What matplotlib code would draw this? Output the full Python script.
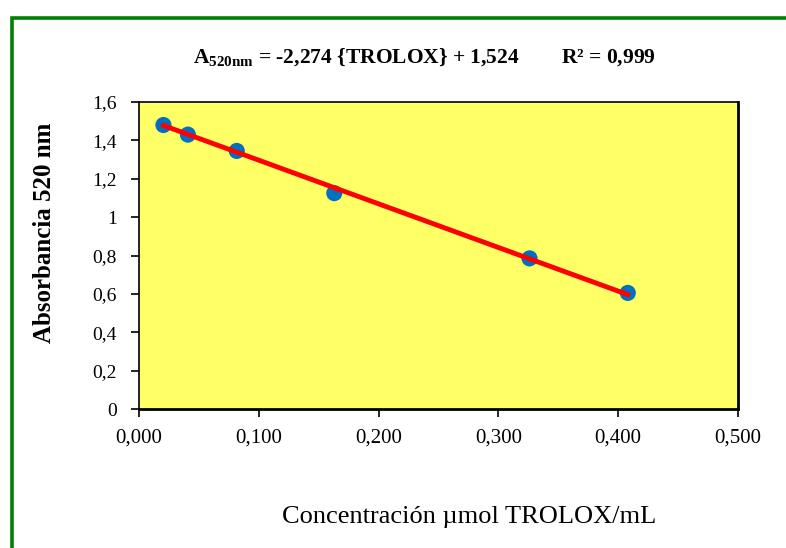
import matplotlib
matplotlib.use("Agg")
import matplotlib.pyplot as plt
import numpy as np
from matplotlib.patches import Rectangle
from matplotlib.ticker import FixedLocator

plt.rcParams['font.family'] = ['Liberation Serif', 'DejaVu Serif']
plt.rcParams['mathtext.fontset'] = 'custom'
plt.rcParams['mathtext.rm'] = 'Liberation Serif'
plt.rcParams['mathtext.bf'] = 'Liberation Serif:bold'

# Data
concentration = [0.0204, 0.0408, 0.0816, 0.163, 0.326, 0.408]
absorbance = [1.48, 1.43, 1.345, 1.125, 0.785, 0.605]
slope = -2.274
intercept = 1.524
x_ticks = [0.0, 0.1, 0.2, 0.3, 0.4, 0.5]
x_tick_labels = ["0,000", "0,100", "0,200", "0,300", "0,400", "0,500"]
y_ticks = [0, 0.2, 0.4, 0.6, 0.8, 1.0, 1.2, 1.4, 1.6]
y_tick_labels = ["0", "0,2", "0,4", "0,6", "0,8", "1", "1,2", "1,4", "1,6"]

W, H = 786, 548
fig = plt.figure(figsize=(W/100, H/100), dpi=100)
fig.patch.set_facecolor('white')

# green frame (extends beyond right & bottom edges)
fig.add_artist(Rectangle((11.5/W, -0.05), 1.2, 1.05 - 18/H,
                         transform=fig.transFigure, fill=False,
                         edgecolor='#008000', linewidth=2.6))

ax = fig.add_axes([139/W, 1 - 409/H, (738-139)/W, (409-102)/H])
ax.set_facecolor('#ffff66')

xs = np.array([concentration[0], concentration[-1]])
ax.plot(xs, slope*xs + intercept, color='#ff0000', lw=3.5, zorder=2)
ax.scatter(concentration, absorbance, s=135, color='#0070c0', zorder=1, edgecolors='none')

ax.set_xlim(0, 0.5)
ax.set_ylim(0, 1.6)
ax.xaxis.set_major_locator(FixedLocator(x_ticks))
ax.set_xticklabels(x_tick_labels)
ax.yaxis.set_major_locator(FixedLocator(y_ticks))
ax.set_yticklabels(y_tick_labels)
ax.tick_params(axis='x', direction='out', length=6, width=1.2, pad=8, labelsize=15)
ax.tick_params(axis='y', direction='out', length=6, width=1.2, pad=10, labelsize=14)
for side in ['left', 'top']:
    ax.spines[side].set_linewidth(1.2)
ax.spines['right'].set_linewidth(2.0)
ax.spines['bottom'].set_linewidth(2.0)

fig.text(424/W, 1 - 58/H,
         r"A$_{\mathbf{520nm}}$ = -2,274 {TROLOX} + 1,524        R² = 0,999",
         ha='center', va='center', fontsize=15.5, fontweight='bold')
fig.text(469/W, 1 - 517/H, "Concentración µmol TROLOX/mL",
         ha='center', va='center', fontsize=19)
fig.text(45/W, 1 - 233/H, "Absorbancia 520 nm", rotation=90,
         ha='center', va='center', fontsize=18, fontweight='bold')

fig.savefig("out.png", dpi=100)
